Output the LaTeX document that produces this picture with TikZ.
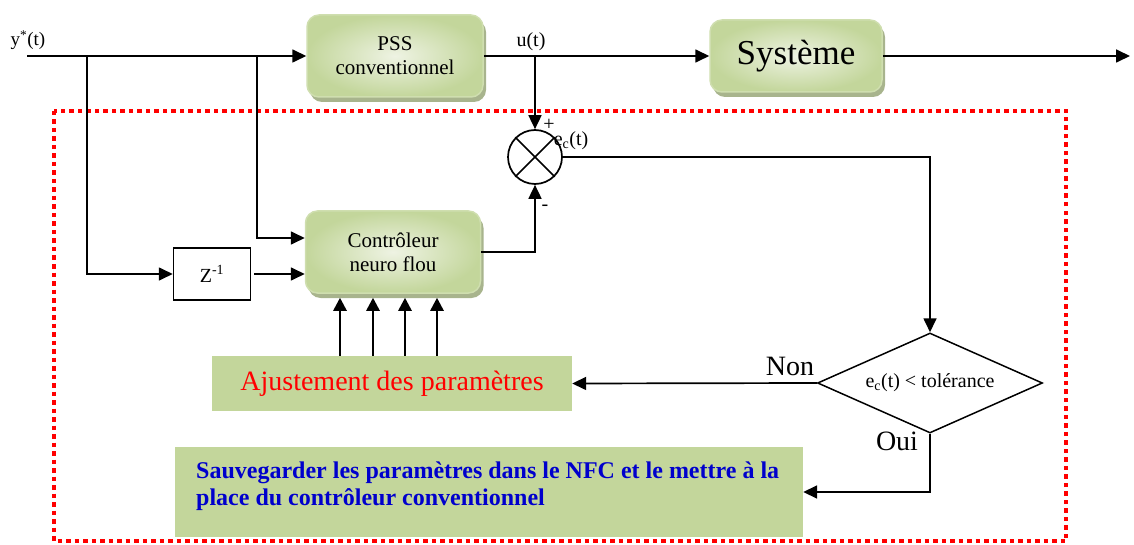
\documentclass[tikz,border=0pt]{standalone}
\usepackage{fontspec}
\setmainfont{Liberation Serif}
\usetikzlibrary{arrows.meta,shapes.geometric,shadows,calc}
\definecolor{boxgreen}{HTML}{C3D69B}
\definecolor{boxlight}{HTML}{EEF3E3}
\definecolor{boxshadow}{HTML}{A8B48D}
\definecolor{noteblue}{HTML}{0000CC}
\begin{document}
\begin{tikzpicture}[x=1pt,y=-1pt,
  font=\fontsize{19}{22}\selectfont,
  line/.style={line width=1.7pt},
  arr/.style={line width=1.7pt,-{Triangle[length=14pt,width=13pt]}},
  uparr/.style={line width=2.6pt,-{Triangle[length=13pt,width=13pt]}},
  gbox/.style={rounded corners=12pt,draw=boxgreen!80!white,line width=1.5pt,
    inner color=boxlight,outer color=boxgreen,align=center,
    drop shadow={shadow xshift=3pt,shadow yshift=-5pt,fill=boxshadow,opacity=1}},
  flat/.style={fill=boxgreen,draw=none},
  reddots/.style={draw=red,line width=4pt,dash pattern=on 4.5pt off 4pt}]
\useasboundingbox (0,0) rectangle (1134,545);

% dotted frame around the tuning loop
\draw[reddots] (54,111) rectangle (1066,541);

% blocks
\node[gbox,minimum width=176pt,minimum height=82pt,font=\fontsize{21}{24}\selectfont] (pss) at (395,56) {PSS\\conventionnel};
\node[gbox,minimum width=172pt,minimum height=72pt,font=\fontsize{35}{40}\selectfont] (sys) at (796,56) {Système};
\node[gbox,minimum width=175pt,minimum height=82pt,font=\fontsize{21}{24}\selectfont] (ctrl) at (393,252) {Contrôleur\\neuro flou};
\node[draw,line width=1.5pt,minimum width=77pt,minimum height=52pt,font=\fontsize{20}{22}\selectfont] (z) at (212,274) {Z\textsuperscript{-1}};
\node[circle,draw,line width=1.7pt,minimum size=54pt,inner sep=0pt] (sum) at (535,157) {};
\draw[line] (sum.north west) -- (sum.south east);
\draw[line] (sum.north east) -- (sum.south west);
\node[diamond,draw,line width=1.5pt,minimum width=225pt,minimum height=100pt,aspect=2.25,inner sep=0pt,font=\fontsize{20}{22}\selectfont] (dia) at (930,383) {e\textsubscript{c}(t) < tolérance};
\node[flat,minimum width=360pt,minimum height=55pt,text=red,font=\fontsize{28}{32}\selectfont] (aj) at (392,383.5) {Ajustement des paramètres};
\node[flat,minimum width=628pt,minimum height=90pt] (sv) at (489,492) {};
\node[anchor=north west,align=left,text=noteblue,inner sep=0pt,font=\bfseries\fontsize{24}{27}\selectfont] (svtext) at (196,462) {Sauvegarder les paramètres dans le NFC et le mettre à la\\place du contrôleur conventionnel};

% signal labels
\node (ylab) at (28,40) {y\textsuperscript{*}(t)};
\node[font=\fontsize{20}{22}\selectfont] (ulab) at (531,42) {u(t)};
\node[font=\fontsize{20}{22}\selectfont] (elab) at (571,141) {e\textsubscript{c}(t)};
\node[font=\fontsize{20}{22}\selectfont] (plus) at (549,125) {+};
\node[font=\fontsize{20}{22}\selectfont] (minus) at (545,208) {-};
\node[font=\fontsize{28}{32}\selectfont] (non) at (790,366) {Non};
\node[font=\fontsize{28}{32}\selectfont] (oui) at (897,441) {Oui};

% branch points
\coordinate (yin) at (27,56);
\coordinate (yout) at (1130,56);
\coordinate (b1) at (87,56);
\coordinate (b2) at (257,56);
\coordinate (ubr) at (535,56);

% connections
\draw[arr] (yin) -- (pss.west);
\draw[arr] (b1) |- (z.west);
\draw[arr] (b2) |- ([yshift=14pt]ctrl.west);
\draw[arr] ([xshift=3pt]z.east) -- (z.east -| ctrl.west);
\draw[arr] (pss.east) -- (sys.west);
\draw[arr] (sys.east) -- (yout);
\draw[arr] (ubr) -- (sum.north);
\draw[arr] (ctrl.east) -| (sum.south);
\draw[arr] (sum.east) -| (dia.north);
\draw[arr] (dia.west) -- (aj.east);
\draw[arr] (dia.south) |- (sv.east);
\foreach \dx in {-53,-20,12,44}
  \draw[uparr] ([xshift=\dx pt]ctrl.south |- aj.north) -- ([xshift=\dx pt,yshift=-4pt]ctrl.south);
\end{tikzpicture}
\end{document}
